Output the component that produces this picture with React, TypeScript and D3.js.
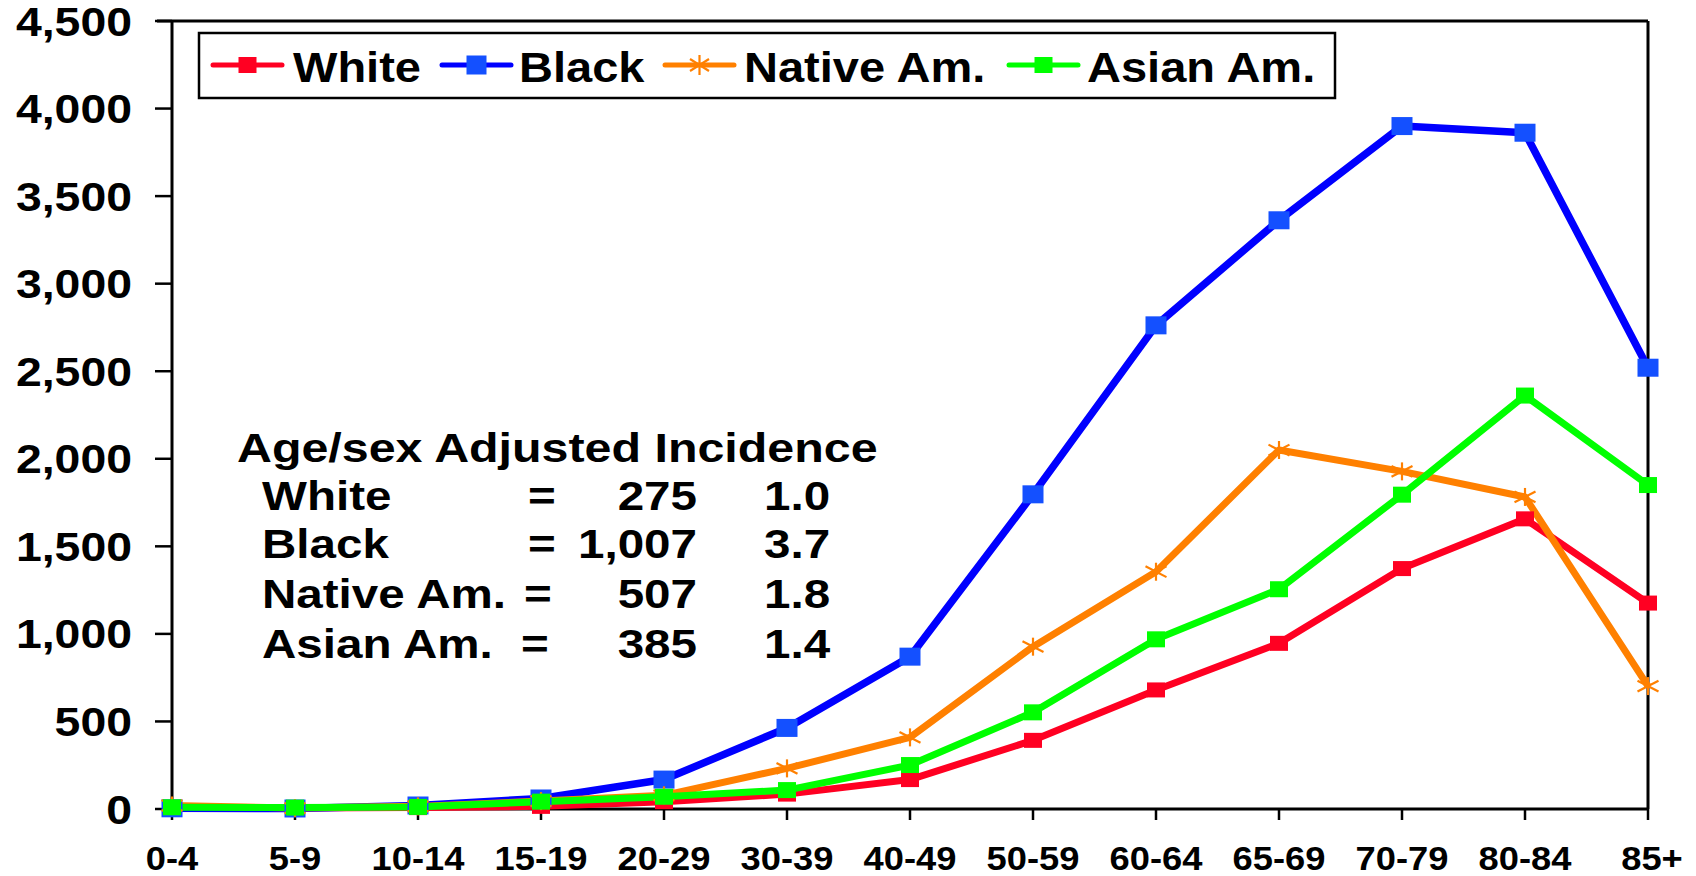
import React from "react";
import * as d3 from "d3";

const categories = ["0-4", "5-9", "10-14", "15-19", "20-29", "30-39", "40-49", "50-59", "60-64", "65-69", "70-79", "80-84", "85+"];
const whiteValues = [5, 5, 8, 15, 42, 85, 168, 392, 680, 946, 1373, 1657, 1176];
const blackValues = [4, 3, 20, 60, 168, 463, 870, 1797, 2762, 3362, 3900, 3862, 2520];
const nativeValues = [20, 5, 15, 45, 78, 232, 409, 927, 1355, 2050, 1928, 1782, 702];
const asianValues = [10, 8, 12, 42, 70, 108, 251, 552, 969, 1255, 1795, 2361, 1850];
const yTicks = [0, 500, 1000, 1500, 2000, 2500, 3000, 3500, 4000, 4500];

const seriesNames = ["White", "Black", "Native Am.", "Asian Am."];
const noteTitle = "Age/sex Adjusted Incidence";
const noteLabels = ["White", "Black", "Native Am.", "Asian Am."];
const noteRates = ["275", "1,007", "507", "385"];
const noteRatios = ["1.0", "3.7", "1.8", "1.4"];

const FONT = "'Liberation Sans', Arial, Helvetica, sans-serif";

type Series = { name: string; values: number[]; line: string; marker: string; shape: "square" | "star"; mw: number; mh: number; lw: number };

const series: Series[] = [
  { name: seriesNames[0], values: whiteValues, line: "#ff0022", marker: "#ff0022", shape: "square", mw: 18, mh: 15, lw: 7 },
  { name: seriesNames[1], values: blackValues, line: "#0000ff", marker: "#1450ff", shape: "square", mw: 21, mh: 18, lw: 7.5 },
  { name: seriesNames[2], values: nativeValues, line: "#ff8000", marker: "#ff8000", shape: "star", mw: 21, mh: 18, lw: 7 },
  { name: seriesNames[3], values: asianValues, line: "#00ff00", marker: "#00ff00", shape: "square", mw: 18, mh: 16, lw: 7 },
];

function SText({ x, y, size, sx, anchor = "start", children }: any) {
  return (
    <text
      transform={`translate(${x},${y}) scale(${sx},1)`}
      fontFamily={FONT}
      fontWeight="bold"
      fontSize={size}
      textAnchor={anchor}
      fill="#000"
    >
      {children}
    </text>
  );
}

function Marker({ s, cx, cy }: { s: Series; cx: number; cy: number }) {
  if (s.shape === "square") {
    return <rect x={cx - s.mw / 2} y={cy - s.mh / 2} width={s.mw} height={s.mh} fill={s.marker} />;
  }
  const w = s.mw / 2;
  const h = s.mh / 2;
  return (
    <g stroke={s.marker} strokeWidth={2.2}>
      <line x1={cx} y1={cy - h} x2={cx} y2={cy + h} />
      <line x1={cx - w} y1={cy - h * 0.6} x2={cx + w} y2={cy + h * 0.6} />
      <line x1={cx - w} y1={cy + h * 0.6} x2={cx + w} y2={cy - h * 0.6} />
    </g>
  );
}

export default function App() {
  const W = 1696;
  const H = 876;
  const left = 172;
  const right = 1648;
  const top = 21;
  const bottom = 809;

  const x = d3.scalePoint<string>().domain(categories).range([left, right]).padding(0);
  const y = d3.scaleLinear().domain([0, 4500]).range([bottom, top]);

  const lineGen = d3
    .line<number>()
    .x((_, i) => x(categories[i]) as number)
    .y((d) => y(d));

  const legendItems = [
    { lx: 213, tx: 293 },
    { lx: 442, tx: 519 },
    { lx: 665, tx: 744 },
    { lx: 1009, tx: 1087 },
  ];

  const noteRowsY = [510, 558, 608, 658];

  return (
    <svg width={W} height={H} style={{ position: "absolute", left: 0, top: 0, display: "block", background: "#fff" }}>
      <rect x={0} y={0} width={W} height={H} fill="#fff" />

      {/* plot frame */}
      <line x1={left - 15} y1={top} x2={right} y2={top} stroke="#000" strokeWidth={3} />
      <line x1={right} y1={top} x2={right} y2={bottom} stroke="#000" strokeWidth={3} />
      <line x1={left} y1={top} x2={left} y2={bottom} stroke="#000" strokeWidth={3} />
      <line x1={left} y1={bottom} x2={right} y2={bottom} stroke="#000" strokeWidth={3} />

      {/* y ticks and labels */}
      {yTicks.map((t) => (
        <g key={t}>
          <line x1={left - 17} y1={y(t)} x2={left} y2={y(t)} stroke="#000" strokeWidth={2.5} />
          <SText x={132} y={y(t) + 14.5} size={40} sx={1.16} anchor="end">
            {d3.format(",")(t)}
          </SText>
        </g>
      ))}

      {/* x ticks and labels */}
      {categories.map((c) => (
        <g key={c}>
          <line x1={x(c)} y1={bottom} x2={x(c)} y2={bottom + 11} stroke="#000" strokeWidth={2.5} />
          <SText x={(x(c) as number) + (c === "85+" ? 4 : 0)} y={870} size={33} sx={1.1} anchor="middle">
            {c}
          </SText>
        </g>
      ))}

      {/* series lines */}
      {series.map((s) => (
        <path key={s.name} d={lineGen(s.values) || ""} fill="none" stroke={s.line} strokeWidth={s.lw} strokeLinejoin="round" />
      ))}
      {/* markers */}
      {series.map((s) => (
        <g key={s.name + "m"}>
          {s.values.map((v, i) => (
            <Marker key={i} s={s} cx={x(categories[i]) as number} cy={y(v)} />
          ))}
        </g>
      ))}

      {/* legend */}
      <rect x={199} y={33} width={1136} height={65} fill="#fff" stroke="#000" strokeWidth={2.5} />
      {series.map((s, i) => {
        const it = legendItems[i];
        const cx = it.lx + 34.5;
        const ls = { ...s, mw: s.shape === "star" ? 19 : s.name === "Black" ? 20 : 18, mh: s.shape === "star" ? 20 : s.name === "Black" ? 19 : 16 };
        return (
          <g key={s.name + "leg"}>
            <line x1={it.lx} y1={65} x2={it.lx + 69} y2={65} stroke={s.line} strokeWidth={5} strokeLinecap="round" />
            <Marker s={ls} cx={cx} cy={65} />
            <SText x={it.tx} y={82} size={42} sx={1.12}>
              {s.name}
            </SText>
          </g>
        );
      })}

      {/* annotation */}
      <SText x={237} y={462} size={41} sx={1.18}>
        {noteTitle}
      </SText>
      {noteLabels.map((lab, i) => (
        <g key={lab + "note"}>
          <SText x={262} y={noteRowsY[i]} size={41} sx={1.16}>
            {lab}
          </SText>
          <SText x={i === 3 ? 521 : i === 2 ? 524 : 528} y={noteRowsY[i]} size={41} sx={1.16}>
            =
          </SText>
          <SText x={697} y={noteRowsY[i]} size={41} sx={1.16} anchor="end">
            {noteRates[i]}
          </SText>
          <SText x={764} y={noteRowsY[i]} size={41} sx={1.16}>
            {noteRatios[i]}
          </SText>
        </g>
      ))}
    </svg>
  );
}
